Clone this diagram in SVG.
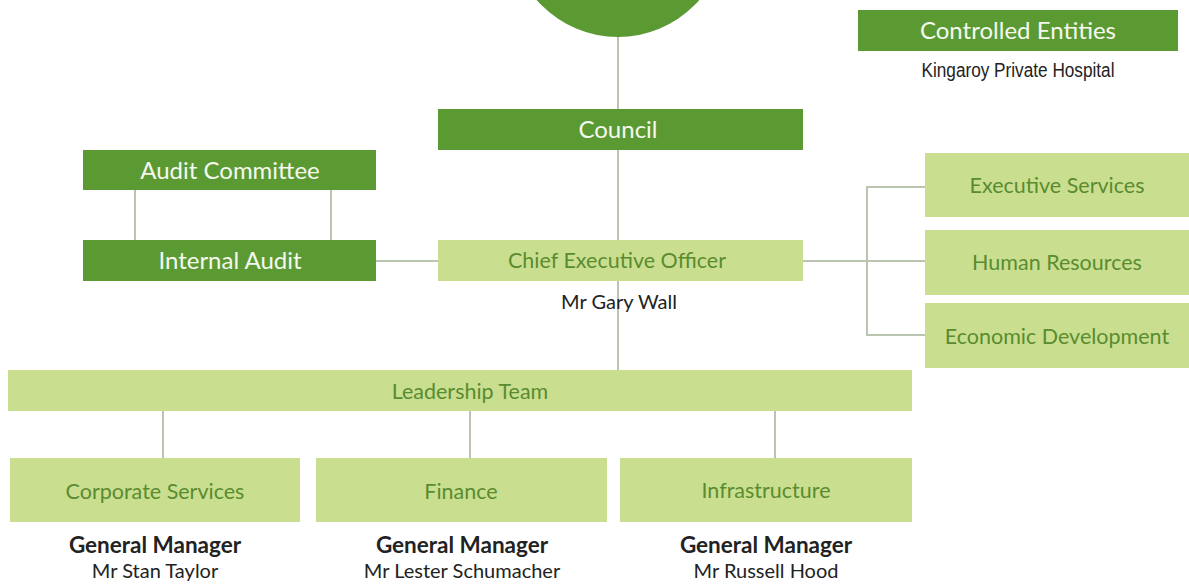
<svg xmlns="http://www.w3.org/2000/svg" width="1189" height="585" viewBox="0 0 1189 585">
<style>
.dark{fill:#5b9a33}
.light{fill:#c9df8f}
.wt{fill:#f4f8ee;font-family:Lato,"Open Sans",sans-serif;font-size:24px;text-anchor:middle}
.gt{fill:#5a8c2f;font-family:Lato,"Open Sans",sans-serif;font-size:21.5px;text-anchor:middle}
.bt{fill:#222;font-family:Lato,"Open Sans",sans-serif;text-anchor:middle}
.conn{stroke:#b9c4b1;stroke-width:2;fill:none}
</style>
<rect width="1189" height="585" fill="#fff"/>
<g id="connectors" class="conn">
<path d="M618 30V240"/>
<path d="M618 281V370"/>
<path d="M135 190V240M331 190V240"/>
<path d="M376 261H438"/>
<path d="M803 261H925"/>
<path d="M925 187H867V335H925"/>
<path d="M163 411V458M470 411V458M775 411V458"/>
</g>
<g id="top-circle"><circle cx="618" cy="-71" r="108" class="dark"/></g>
<g id="controlled-entities">
<rect x="858" y="10" width="320" height="41" class="dark"/>
<text x="1018" y="38.500" class="wt">Controlled Entities</text>
<text x="1018" y="77" font-family="'Liberation Sans',Arial,sans-serif" font-size="20" fill="#222" text-anchor="middle" textLength="193" lengthAdjust="spacingAndGlyphs">Kingaroy Private Hospital</text>
</g>
<g id="council">
<rect x="438" y="109" width="365" height="41" class="dark"/>
<text x="618" y="138" class="wt">Council</text>
</g>
<g id="audit-committee">
<rect x="83" y="150" width="293" height="40" class="dark"/>
<text x="230" y="178.500" class="wt">Audit Committee</text>
</g>
<g id="internal-audit">
<rect x="83" y="240" width="293" height="41" class="dark"/>
<text x="230" y="269" class="wt">Internal Audit</text>
</g>
<g id="ceo">
<rect x="438" y="240" width="365" height="41" class="light"/>
<text x="617" y="268" class="gt">Chief Executive Officer</text>
<text x="619" y="309" class="bt" font-size="20">Mr Gary Wall</text>
</g>
<g id="executive-services">
<rect x="925" y="153" width="264" height="64" class="light"/>
<text x="1057" y="193" class="gt">Executive Services</text>
</g>
<g id="human-resources">
<rect x="925" y="230" width="264" height="65" class="light"/>
<text x="1057" y="270" class="gt">Human Resources</text>
</g>
<g id="economic-development">
<rect x="925" y="303" width="264" height="65" class="light"/>
<text x="1057" y="344" class="gt">Economic Development</text>
</g>
<g id="leadership-team">
<rect x="8" y="370" width="904" height="41" class="light"/>
<text x="470" y="399" class="gt">Leadership Team</text>
</g>
<g id="corporate-services">
<rect x="10" y="458" width="290" height="64" class="light"/>
<text x="155" y="499" class="gt">Corporate Services</text>
<text x="155" y="553" class="bt" font-size="22.5" font-weight="bold">General Manager</text>
<text x="155" y="578" class="bt" font-size="20">Mr Stan Taylor</text>
</g>
<g id="finance">
<rect x="316" y="458" width="291" height="64" class="light"/>
<text x="461" y="499" class="gt">Finance</text>
<text x="462" y="553" class="bt" font-size="22.5" font-weight="bold">General Manager</text>
<text x="462" y="578" class="bt" font-size="20">Mr Lester Schumacher</text>
</g>
<g id="infrastructure">
<rect x="620" y="458" width="292" height="64" class="light"/>
<text x="766" y="498" class="gt">Infrastructure</text>
<text x="766" y="553" class="bt" font-size="22.5" font-weight="bold">General Manager</text>
<text x="766" y="578" class="bt" font-size="20">Mr Russell Hood</text>
</g>
</svg>
